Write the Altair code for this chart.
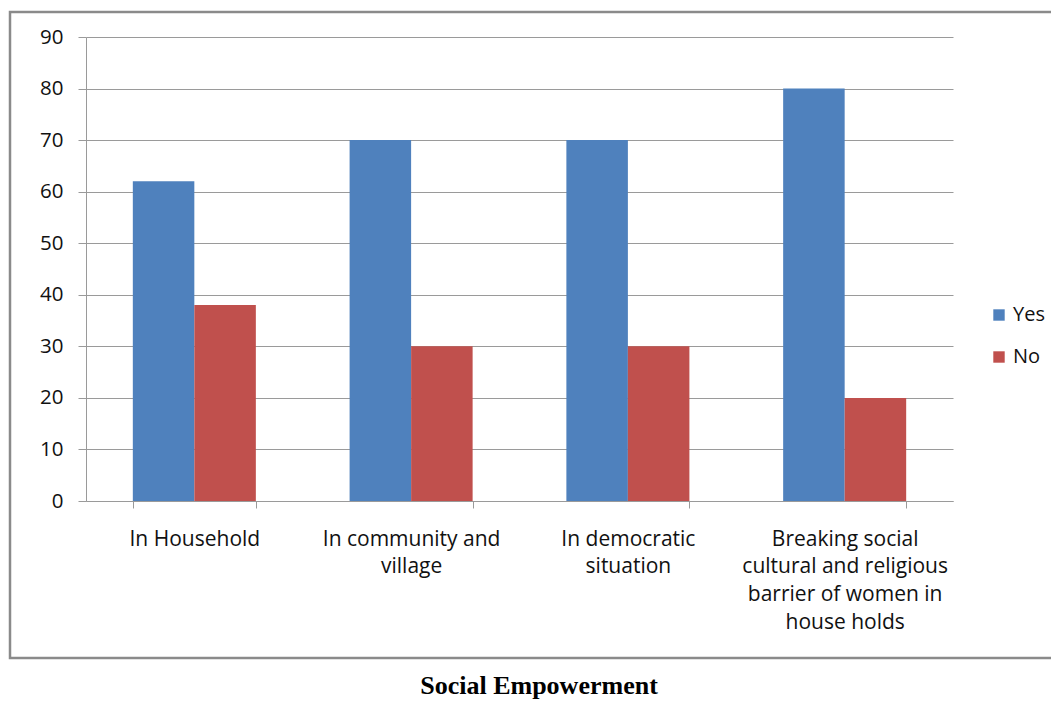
import altair as alt
import pandas as pd

categories = [
    "In Household",
    "In community and|village",
    "In democratic|situation",
    "Breaking social|cultural and religious|barrier of women in|house holds",
]
yes_values = [62, 70, 70, 80]
no_values = [38, 30, 30, 20]
series = ["Yes", "No"]
colors = ["#4F81BD", "#C0504D"]
y_ticks = list(range(0, 100, 10))

rows = []
for c, y, n in zip(categories, yes_values, no_values):
    rows.append({"cat": c, "series": "Yes", "value": y})
    rows.append({"cat": c, "series": "No", "value": n})
df = pd.DataFrame(rows)

FONT = "Open Sans"
GRID = "#9a9a9a"

bars = alt.Chart(df).mark_bar().encode(
    x=alt.X(
        "cat:N",
        sort=categories,
        scale=alt.Scale(paddingInner=0.4325, paddingOuter=0.216),
        axis=alt.Axis(
            title=None,
            labelAngle=0,
            labelExpr="split(datum.label, '|')",
            labelFont=FONT,
            labelFontSize=21,
            labelColor="#111111",
            labelLineHeight=27.7,
            labelPadding=20,
            labelLimit=400,
            tickBand="extent",
            tickSize=7,
            tickColor=GRID,
            domainColor=GRID,
            grid=False,
        ),
    ),
    xOffset=alt.XOffset("series:N", sort=series, scale=alt.Scale(paddingInner=0, paddingOuter=0)),
    y=alt.Y(
        "value:Q",
        scale=alt.Scale(domain=[0, 90], nice=False),
        axis=alt.Axis(
            title=None,
            values=y_ticks,
            labelFont=FONT,
            labelFontSize=20.5,
            labelColor="#111111",
            labelPadding=15,
            tickSize=8,
            tickColor=GRID,
            domainColor=GRID,
            gridColor=GRID,
            grid=True,
        ),
    ),
    color=alt.Color(
        "series:N",
        sort=series,
        scale=alt.Scale(domain=series, range=colors),
        legend=alt.Legend(
            title=None,
            orient="none",
            legendX=903,
            legendY=268,
            symbolType="square",
            symbolSize=130,
            symbolStrokeWidth=0,
            labelFont=FONT,
            labelFontSize=20,
            labelColor="#111111",
            rowPadding=22,
            labelOffset=4,
        ),
    ),
)

one = alt.Data(values=[{}])

frame = alt.Chart(one).mark_rect(fill=None, stroke="#8a8a8a", strokeWidth=2.5).encode(
    x=alt.value(-76), x2=alt.value(1000), y=alt.value(-25), y2=alt.value(621)
)

title = alt.Chart(one).mark_text(
    text="Social Empowerment",
    font="Liberation Serif",
    fontSize=26,
    fontWeight="bold",
    color="#000000",
    baseline="alphabetic",
    align="center",
).encode(x=alt.value(453), y=alt.value(657))

chart = alt.layer(frame, bars, title).properties(
    width=867,
    height=464,
    autosize=alt.AutoSizeParams(type="none"),
    padding={"left": 78, "top": 29, "right": 98, "bottom": 199},
).configure_view(stroke=None)

chart.save("out.html", embed_options={"renderer": "svg", "actions": False})
